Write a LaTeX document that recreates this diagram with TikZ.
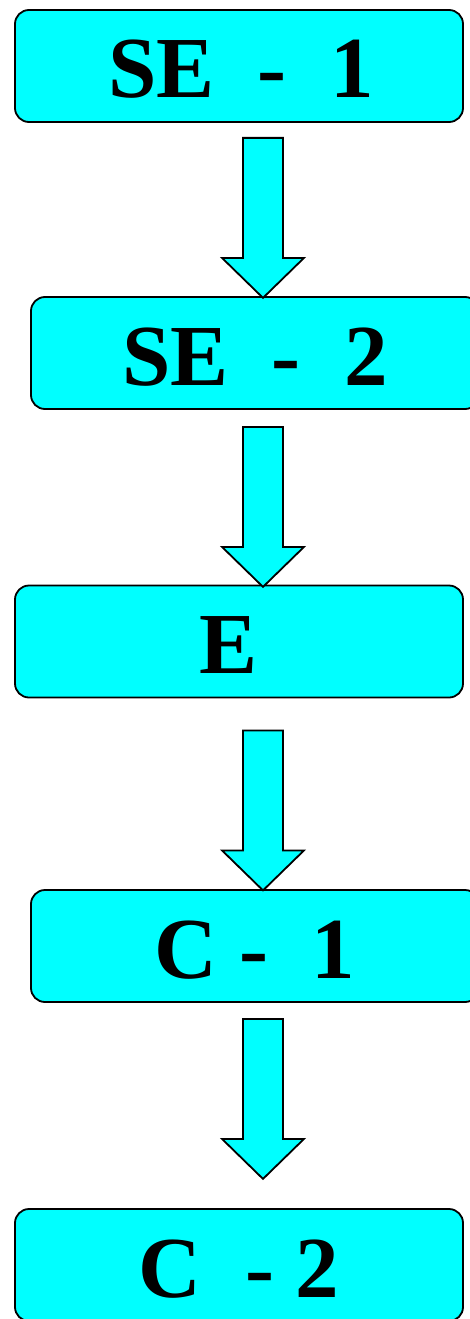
\documentclass[tikz,border=0pt]{standalone}
\usepackage{fontspec}
\setmainfont{Liberation Serif}
\usetikzlibrary{calc}
\definecolor{aqua}{RGB}{0,255,255}
\tikzset{
  box/.style={draw=black, line width=1.8pt, fill=aqua, rounded corners=14pt,
    minimum width=448pt, minimum height=112pt, inner sep=0pt,
    text height=64pt, text depth=0pt,
    font=\fontsize{87}{90}\selectfont\bfseries},
  arrowshape/.style={draw=black, line width=1.8pt, fill=aqua, line join=miter},
  blockarrow/.pic={
    \draw[arrowshape] (-20,0) -- (20,0) -- (20,120) -- (41,120) -- (0,160)
      -- (-41,120) -- (-20,120) -- cycle;
  }
}
\begin{document}
\begin{tikzpicture}[x=1pt,y=-1pt]
  \useasboundingbox (0,0) rectangle (470,1319);
  \clip (0,0) rectangle (470,1319);
  \node[box] (b1) at (239,66)   {\kern4pt SE~~-~~1};
  \node[box] (b2) at (255,353)  {SE~~-~~2};
  \node[box] (b3) at (239,641.5){E\kern0.25em};
  \node[box] (b4) at (255,946)  {C~-~~1};
  \node[box] (b5) at (239,1265) {C~~-~2};
  \pic at ($(b1.south)+(24,15)$) {blockarrow};
  \pic at ($(b2.south)+(8,17)$) {blockarrow};
  \pic at ($(b3.south)+(24,32)$) {blockarrow};
  \pic at ($(b4.south)+(8,16)$) {blockarrow};
\end{tikzpicture}
\end{document}
